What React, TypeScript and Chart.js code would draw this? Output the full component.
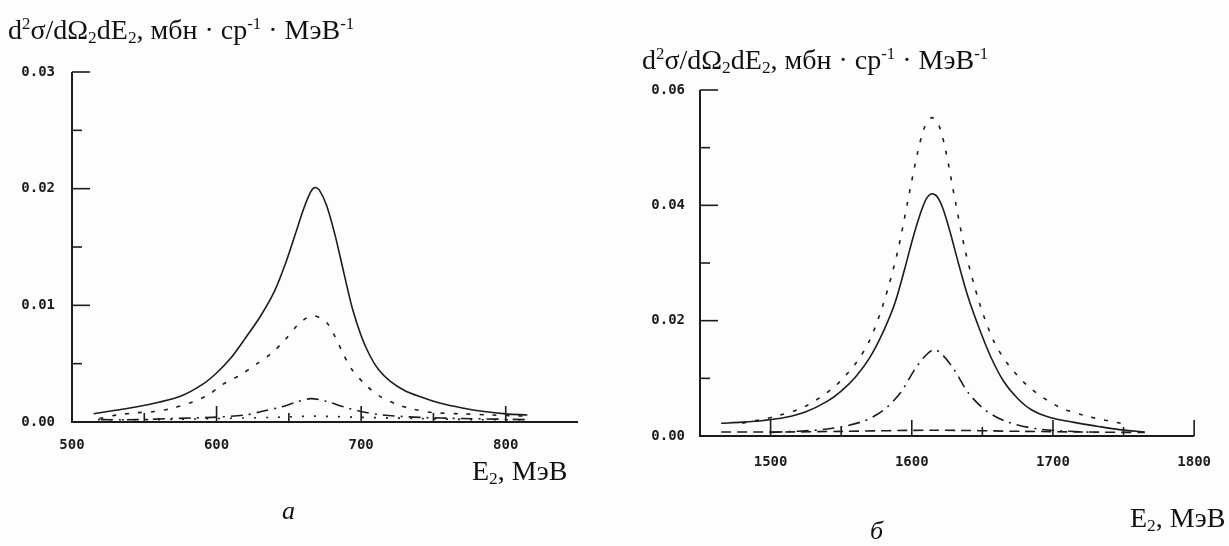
import React, { useEffect, useRef } from "react";
import { Chart, registerables } from "chart.js";

Chart.register(...registerables);

// ---------- Panel а (E2 = 500..850 MeV) ----------
const aXTicks = [500, 550, 600, 650, 700, 750, 800, 850];
const aXLabels = ["500", "", "600", "", "700", "", "800", ""];
const aYTicks = [0, 0.005, 0.01, 0.015, 0.02, 0.025, 0.03];
const aYLabels = ["0.00", "", "0.01", "", "0.02", "", "0.03"];

const aSolidE = [515, 530, 545, 560, 575, 590, 600, 610, 620, 630, 640, 648, 655, 660, 665, 668, 671, 676, 682, 688, 694, 700, 706, 712, 720, 730, 740, 755, 770, 785, 800, 815];
const aSolidV = [0.0007, 0.001, 0.0013, 0.0017, 0.0022, 0.0032, 0.0042, 0.0055, 0.0072, 0.009, 0.0112, 0.0137, 0.0163, 0.0182, 0.0197, 0.0201, 0.0199, 0.0186, 0.016, 0.0128, 0.0097, 0.0074, 0.0057, 0.0045, 0.0035, 0.0027, 0.0022, 0.0016, 0.0012, 0.0009, 0.0007, 0.0006];

const aDashE = [519, 531, 545, 557, 570, 583, 594, 604, 616, 628, 639, 647, 656, 662, 667, 672, 677, 682, 687, 693, 703, 713, 725, 736, 750, 770, 790, 815];
const aDashV = [0.0003, 0.0006, 0.0008, 0.0009, 0.0012, 0.0017, 0.0023, 0.0032, 0.004, 0.005, 0.006, 0.007, 0.0083, 0.0089, 0.0091, 0.0089, 0.0084, 0.0073, 0.006, 0.0046, 0.0032, 0.0022, 0.0015, 0.0011, 0.0008, 0.0007, 0.0006, 0.0005];

const aDashDotE = [520, 545, 570, 597, 620, 631, 645, 655, 665, 675, 688, 700, 715, 740, 770, 815];
const aDashDotV = [0.0002, 0.0002, 0.0003, 0.0004, 0.0006, 0.0009, 0.0013, 0.0017, 0.002, 0.0018, 0.0013, 0.0009, 0.0006, 0.0004, 0.0003, 0.0002];

const aDotE = [518, 560, 600, 640, 667, 700, 740, 780, 815];
const aDotV = [0.0002, 0.0002, 0.0003, 0.0004, 0.0005, 0.0004, 0.0003, 0.0002, 0.0002];

// ---------- Panel б (E2 = 1450..1800 MeV) ----------
const bXTicks = [1450, 1500, 1550, 1600, 1650, 1700, 1750, 1800];
const bXLabels = ["", "1500", "", "1600", "", "1700", "", "1800"];
const bYTicks = [0, 0.01, 0.02, 0.03, 0.04, 0.05, 0.06];
const bYLabels = ["0.00", "", "0.02", "", "0.04", "", "0.06"];

const bSolidE = [1465, 1480, 1495, 1510, 1525, 1540, 1550, 1560, 1570, 1580, 1588, 1595, 1601, 1606, 1610, 1614, 1618, 1622, 1627, 1633, 1640, 1648, 1656, 1665, 1675, 1685, 1698, 1714, 1731, 1747, 1765];
const bSolidV = [0.0022, 0.0024, 0.0027, 0.0032, 0.0042, 0.006, 0.0078, 0.0102, 0.0135, 0.0182, 0.023, 0.029, 0.0345, 0.0385, 0.041, 0.042, 0.0415, 0.0395, 0.0355, 0.03, 0.024, 0.0185, 0.0137, 0.0095, 0.0065, 0.0045, 0.0032, 0.0024, 0.0017, 0.0011, 0.0007];

const bDotE = [1480, 1505, 1525, 1545, 1560, 1570, 1580, 1590, 1597, 1604, 1609, 1614, 1619, 1624, 1631, 1638, 1648, 1658, 1668, 1683, 1703, 1723, 1748];
const bDotV = [0.0022, 0.0035, 0.0052, 0.0085, 0.0125, 0.0165, 0.023, 0.032, 0.0405, 0.049, 0.0535, 0.0552, 0.054, 0.0495, 0.0405, 0.032, 0.023, 0.0165, 0.0125, 0.0085, 0.0052, 0.0035, 0.0022];

const bDashDotE = [1500, 1540, 1565, 1580, 1592, 1602, 1610, 1616, 1622, 1630, 1640, 1652, 1667, 1690, 1730];
const bDashDotV = [0.0006, 0.0012, 0.0025, 0.0045, 0.0075, 0.0115, 0.014, 0.015, 0.014, 0.0115, 0.0075, 0.0045, 0.0025, 0.0012, 0.0006];

const bLowE = [1465, 1510, 1550, 1615, 1680, 1720, 1765];
const bLowV = [0.0007, 0.0007, 0.0008, 0.001, 0.0008, 0.0007, 0.0006];

const INK = "#1c1c1c";
const TICK_FONT = { family: "'DejaVu Sans Mono', monospace", size: 14, weight: "bold" as const };

function pts(xs: number[], ys: number[]) {
  return xs.map((x, i) => ({ x, y: ys[i] }));
}

function makeAxesPlugin(xTicks: number[], xLabels: string[], yTicks: number[], yLabels: string[], endTick: boolean) {
  return {
    id: "inwardAxes",
    afterDraw(chart: any) {
      const { ctx, chartArea, scales } = chart;
      const xs = scales.x;
      const ys = scales.y;
      ctx.save();
      ctx.strokeStyle = INK;
      ctx.lineWidth = 2;
      ctx.beginPath();
      ctx.moveTo(chartArea.left, chartArea.top);
      ctx.lineTo(chartArea.left, chartArea.bottom);
      ctx.lineTo(chartArea.right, chartArea.bottom);
      ctx.stroke();
      ctx.lineWidth = 1.6;
      xTicks.forEach((v, i) => {
        const px = xs.getPixelForValue(v);
        if (Math.abs(px - chartArea.left) < 1) return;
        const isLast = i === xTicks.length - 1;
        if (isLast && !endTick) return;
        const len = xLabels[i] !== "" ? 16 : 9;
        ctx.beginPath();
        ctx.moveTo(px, chartArea.bottom);
        ctx.lineTo(px, chartArea.bottom - len);
        ctx.stroke();
      });
      yTicks.forEach((v, i) => {
        const py = ys.getPixelForValue(v);
        if (Math.abs(py - chartArea.bottom) < 1) return;
        const len = yLabels[i] !== "" ? 18 : 10;
        ctx.beginPath();
        ctx.moveTo(chartArea.left, py);
        ctx.lineTo(chartArea.left + len, py);
        ctx.stroke();
      });
      ctx.restore();
    },
  };
}

type Series = { e: number[]; v: number[]; dash: number[]; width: number };

function buildConfig(
  series: Series[],
  xTicks: number[], xLabels: string[], yTicks: number[], yLabels: string[],
  yWidth: number, xHeight: number, padding: any, endTick: boolean, xPad: number, yPad: number
): any {
  const xMin = xTicks[0], xMax = xTicks[xTicks.length - 1];
  const yMin = yTicks[0], yMax = yTicks[yTicks.length - 1];
  return {
    type: "line",
    data: {
      datasets: series.map((s) => ({
        data: pts(s.e, s.v),
        borderColor: INK,
        borderWidth: s.width,
        borderDash: s.dash,
        pointRadius: 0,
        tension: 0.3,
        fill: false,
      })),
    },
    options: {
      animation: false,
      responsive: false,
      maintainAspectRatio: false,
      layout: { padding },
      plugins: { legend: { display: false }, tooltip: { enabled: false }, title: { display: false } },
      scales: {
        x: {
          type: "linear",
          min: xMin,
          max: xMax,
          afterBuildTicks: (scale: any) => { scale.ticks = xTicks.map((v) => ({ value: v })); },
          afterFit: (scale: any) => { scale.height = xHeight; },
          grid: { display: false, drawTicks: false },
          border: { display: false },
          ticks: {
            autoSkip: false,
            maxRotation: 0,
            padding: xPad,
            color: INK,
            font: TICK_FONT,
            callback: (_v: any, i: number) => xLabels[i],
          },
        },
        y: {
          type: "linear",
          min: yMin,
          max: yMax,
          afterBuildTicks: (scale: any) => { scale.ticks = yTicks.map((v) => ({ value: v })); },
          afterFit: (scale: any) => { scale.width = yWidth; },
          grid: { display: false, drawTicks: false },
          border: { display: false },
          ticks: {
            autoSkip: false,
            padding: yPad,
            color: INK,
            font: TICK_FONT,
            callback: (_v: any, i: number) => yLabels[i],
          },
        },
      },
    },
    plugins: [makeAxesPlugin(xTicks, xLabels, yTicks, yLabels, endTick)],
  };
}

function ChartCanvas({ config, left, width, height }: { config: () => any; left: number; width: number; height: number }) {
  const ref = useRef<HTMLCanvasElement | null>(null);
  useEffect(() => {
    if (!ref.current) return;
    const chart = new Chart(ref.current, config());
    return () => chart.destroy();
  }, []);
  return (
    <canvas
      ref={ref}
      width={width}
      height={height}
      style={{ position: "absolute", left, top: 0, width, height }}
    />
  );
}

const serif = "'Liberation Serif', 'Times New Roman', serif";
const sup: React.CSSProperties = { fontSize: "0.6em", verticalAlign: "0.6em" };
const sub: React.CSSProperties = { fontSize: "0.62em", verticalAlign: "-0.25em" };

function YTitle({ left, top }: { left: number; top: number }) {
  return (
    <div style={{ position: "absolute", left, top, fontFamily: serif, fontSize: 28, color: "#111", whiteSpace: "nowrap", lineHeight: "32px" }}>
      d<span style={sup}>2</span>σ/dΩ<span style={sub}>2</span>dE<span style={sub}>2</span>, мбн · ср<span style={sup}>-1</span> · МэВ<span style={sup}>-1</span>
    </div>
  );
}

function XTitle({ left, top }: { left: number; top: number }) {
  return (
    <div style={{ position: "absolute", left, top, fontFamily: serif, fontSize: 28, color: "#111", whiteSpace: "nowrap", lineHeight: "32px" }}>
      E<span style={sub}>2</span>, МэВ
    </div>
  );
}

export default function App() {
  const leftConfig = () =>
    buildConfig(
      [
        { e: aSolidE, v: aSolidV, dash: [], width: 1.6 },
        { e: aDashE, v: aDashV, dash: [4, 9], width: 1.6 },
        { e: aDashDotE, v: aDashDotV, dash: [12, 6, 2, 6], width: 1.6 },
        { e: aDotE, v: aDotV, dash: [2, 10], width: 1.6 },
      ],
      aXTicks, aXLabels, aYTicks, aYLabels,
      72, 124, { top: 72, right: 36, left: 0, bottom: 0 }, false, 15, 17
    );
  const rightConfig = () =>
    buildConfig(
      [
        { e: bSolidE, v: bSolidV, dash: [], width: 1.6 },
        { e: bDotE, v: bDotV, dash: [4, 9], width: 1.6 },
        { e: bDashDotE, v: bDashDotV, dash: [12, 6, 2, 6], width: 1.6 },
        { e: bLowE, v: bLowV, dash: [10, 6], width: 1.6 },
      ],
      bXTicks, bXLabels, bYTicks, bYLabels,
      86, 110, { top: 90, right: 24, left: 0, bottom: 0 }, true, 18, 15
    );
  return (
    <div style={{ position: "absolute", left: 0, top: 0, width: 1229, height: 546, background: "#fdfdfd", overflow: "hidden" }}>
      <ChartCanvas config={leftConfig} left={0} width={614} height={546} />
      <ChartCanvas config={rightConfig} left={614} width={615} height={546} />
      <YTitle left={8} top={8} />
      <YTitle left={642} top={38} />
      <XTitle left={472} top={455} />
      <XTitle left={1130} top={502} />
      <div style={{ position: "absolute", left: 282, top: 496, fontFamily: serif, fontStyle: "italic", fontSize: 26, color: "#111" }}>а</div>
      <div style={{ position: "absolute", left: 870, top: 516, fontFamily: serif, fontStyle: "italic", fontSize: 26, color: "#111" }}>б</div>
    </div>
  );
}
